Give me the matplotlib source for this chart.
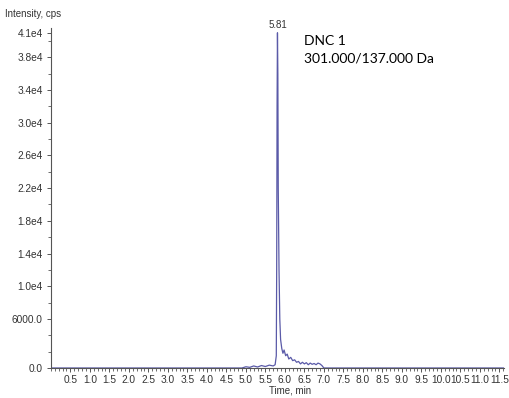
import matplotlib
matplotlib.use("Agg")
import matplotlib.pyplot as plt
from matplotlib.ticker import MultipleLocator, FixedLocator

# XIC trace (time in min, intensity in cps)
time_min = [0.00, 4.90, 5.00, 5.10, 5.20, 5.30, 5.40, 5.50, 5.60, 5.70, 5.75,
            5.78, 5.79, 5.80, 5.81, 5.82, 5.83, 5.85, 5.87, 5.89, 5.92, 5.95,
            5.98, 6.02, 6.06, 6.10, 6.15, 6.20, 6.25, 6.30, 6.35, 6.40, 6.45,
            6.50, 6.55, 6.60, 6.65, 6.70, 6.75, 6.80, 6.85, 6.90, 6.95, 7.00,
            11.65]
intensity = [0, 0, 150, 80, 250, 120, 300, 180, 350, 250, 400,
             1500, 12000, 32000, 41000, 36000, 22000, 12000, 6000, 3500, 2400, 1800,
             2200, 1500, 1700, 1100, 1300, 900, 1000, 700, 800, 500, 700,
             500, 650, 400, 600, 450, 550, 400, 600, 500, 300, 0,
             0]

peak_rt = 5.81
y_tick_values = [0, 6000, 10000, 14000, 18000, 22000, 26000, 30000, 34000, 38000, 41000]
y_tick_labels = ["0.0", "6000.0", "1.0e4", "1.4e4", "1.8e4", "2.2e4", "2.6e4",
                 "3.0e4", "3.4e4", "3.8e4", "4.1e4"]
x_tick_values = [0.5 * i for i in range(1, 24)]
x_tick_labels = [f"{v:.1f}" for v in x_tick_values]

TXT = "#333333"
LINE = "#5a5aa8"

fig = plt.figure(figsize=(5.09, 3.98), dpi=100)
ax = fig.add_axes([0.100, 0.0754, 0.891, 0.8545])

ax.plot(time_min, intensity, color=LINE, lw=0.9)
ax.set_xlim(0.0, 11.63)
ax.set_ylim(0, 41600)

for s in ("top", "right"):
    ax.spines[s].set_visible(False)
for s in ("left", "bottom"):
    ax.spines[s].set_color("#555555")
    ax.spines[s].set_linewidth(0.8)

ax.yaxis.set_major_locator(FixedLocator(y_tick_values))
ax.set_yticklabels(y_tick_labels)
ax.yaxis.set_minor_locator(MultipleLocator(2000))
ax.xaxis.set_major_locator(FixedLocator(x_tick_values))
ax.set_xticklabels(x_tick_labels)
ax.xaxis.set_minor_locator(MultipleLocator(0.1))

ax.tick_params(axis="both", which="major", labelsize=7.3, labelcolor=TXT,
               color="#555555", length=3, width=0.7, pad=2,
               labelfontfamily="Liberation Sans")
ax.tick_params(axis="y", which="major", pad=3)
ax.tick_params(axis="both", which="minor", color="#555555", length=2, width=0.6)

fig.text(0.010, 0.965, "Intensity, cps", fontsize=7, color=TXT,
         family="Liberation Sans", va="center", ha="left")
fig.text(0.570, 0.020, "Time, min", fontsize=7, color=TXT,
         family="Liberation Sans", va="center", ha="center")

ax.annotate(f"{peak_rt:.2f}", xy=(peak_rt, 41000), xytext=(0, 2),
            textcoords="offset points", ha="center", va="bottom",
            fontsize=7, color=TXT, family="Liberation Sans")

fig.text(0.598, 0.898, "DNC 1", fontsize=10, color="black", family="Lato",
         va="center", ha="left")
fig.text(0.598, 0.853, "301.000/137.000 Da", fontsize=10, color="black",
         family="Lato", va="center", ha="left")

fig.savefig("out.png", dpi=100)
